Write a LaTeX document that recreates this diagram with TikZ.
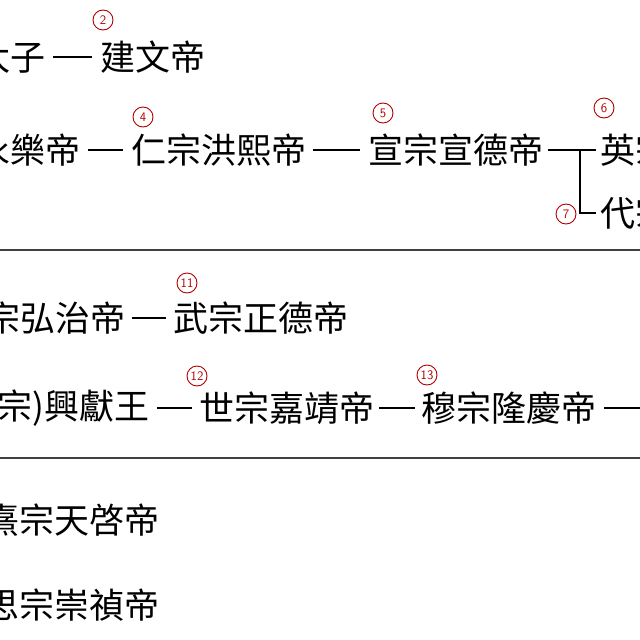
\documentclass[tikz,border=0pt]{standalone}
\usepackage{fontspec}
\newfontfamily\cjk{Noto Sans CJK TC}
\begin{document}
\begin{tikzpicture}[x=1pt,y=-1pt,
  nm/.style={font=\cjk\fontsize{35}{35}\selectfont, inner sep=0pt, anchor=west},
  nme/.style={nm, anchor=east},
  ln/.style={line width=1.3pt, black},
  num/.style={circle, draw=red!70!black, line width=0.9pt, text=red!70!black, inner sep=0pt, minimum size=20pt, font=\sffamily\fontsize{13}{13}\selectfont},
  rule/.style={line width=1.2pt, black!75}]
\useasboundingbox (0,0) rectangle (640,640);
\clip (0,0) rectangle (640,640);
% row 1
\node[nme] (taizi) at (46,57) {太子};
\node[nm] (jianwen) at (100,57) {建文帝};
\draw[ln] ([xshift=7pt]taizi.east) -- ([xshift=-8pt]jianwen.west);
\node[num] (n2) at (103,20) {2};
% row 2
\node[nme] (yongle) at (81,150) {永樂帝};
\node[nm] (renzong) at (131,150) {仁宗洪熙帝};
\node[nm] (xuanzong) at (368,150) {宣宗宣德帝};
\node[nm] (ying) at (600,150) {英宗正統帝};
\node[nm] (dai) at (600,213) {代宗景泰帝};
\draw[ln] ([xshift=7pt]yongle.east) -- ([xshift=-8pt]renzong.west);
\draw[ln] ([xshift=7pt]renzong.east) -- ([xshift=-8pt]xuanzong.west);
\draw[ln] ([xshift=5pt]xuanzong.east) -- ([xshift=-4pt]ying.west);
\coordinate (br) at (580,150);
\draw[ln] (br) |- ([xshift=-4pt]dai.west);
\node[num] (n4) at (143,117) {4};
\node[num] (n5) at (383,113) {5};
\node[num] (n6) at (604,108) {6};
\node[num] (n7) at (566,214) {7};
\draw[rule] (0,250) -- (640,250);
% row 3
\node[nme] (xiaozong) at (126,318) {孝宗弘治帝};
\node[nm] (wuzong) at (173,318) {武宗正德帝};
\draw[ln] ([xshift=6pt]xiaozong.east) -- ([xshift=-7pt]wuzong.west);
\node[num] (n11) at (187,283) {11};
% row 4
\node[nme] (xingxian) at (150,408) {(睿宗)興獻王};
\node[nm] (shizong) at (199,408) {世宗嘉靖帝};
\node[nm] (muzong) at (421,408) {穆宗隆慶帝};
\coordinate (next) at (645,408);
\draw[ln] ([xshift=7pt]xingxian.east) -- ([xshift=-7pt]shizong.west);
\draw[ln] ([xshift=5pt]shizong.east) -- ([xshift=-6pt]muzong.west);
\draw[ln] ([xshift=8pt]muzong.east) -- (next);
\node[num] (n12) at (197,376) {12};
\node[num] (n13) at (427,375) {13};
\draw[rule] (0,458) -- (640,458);
% rows 5,6
\node[nme] (xizong) at (160,520) {熹宗天啓帝};
\node[nme] (sizong) at (160,605) {思宗崇禎帝};
\end{tikzpicture}
\end{document}
